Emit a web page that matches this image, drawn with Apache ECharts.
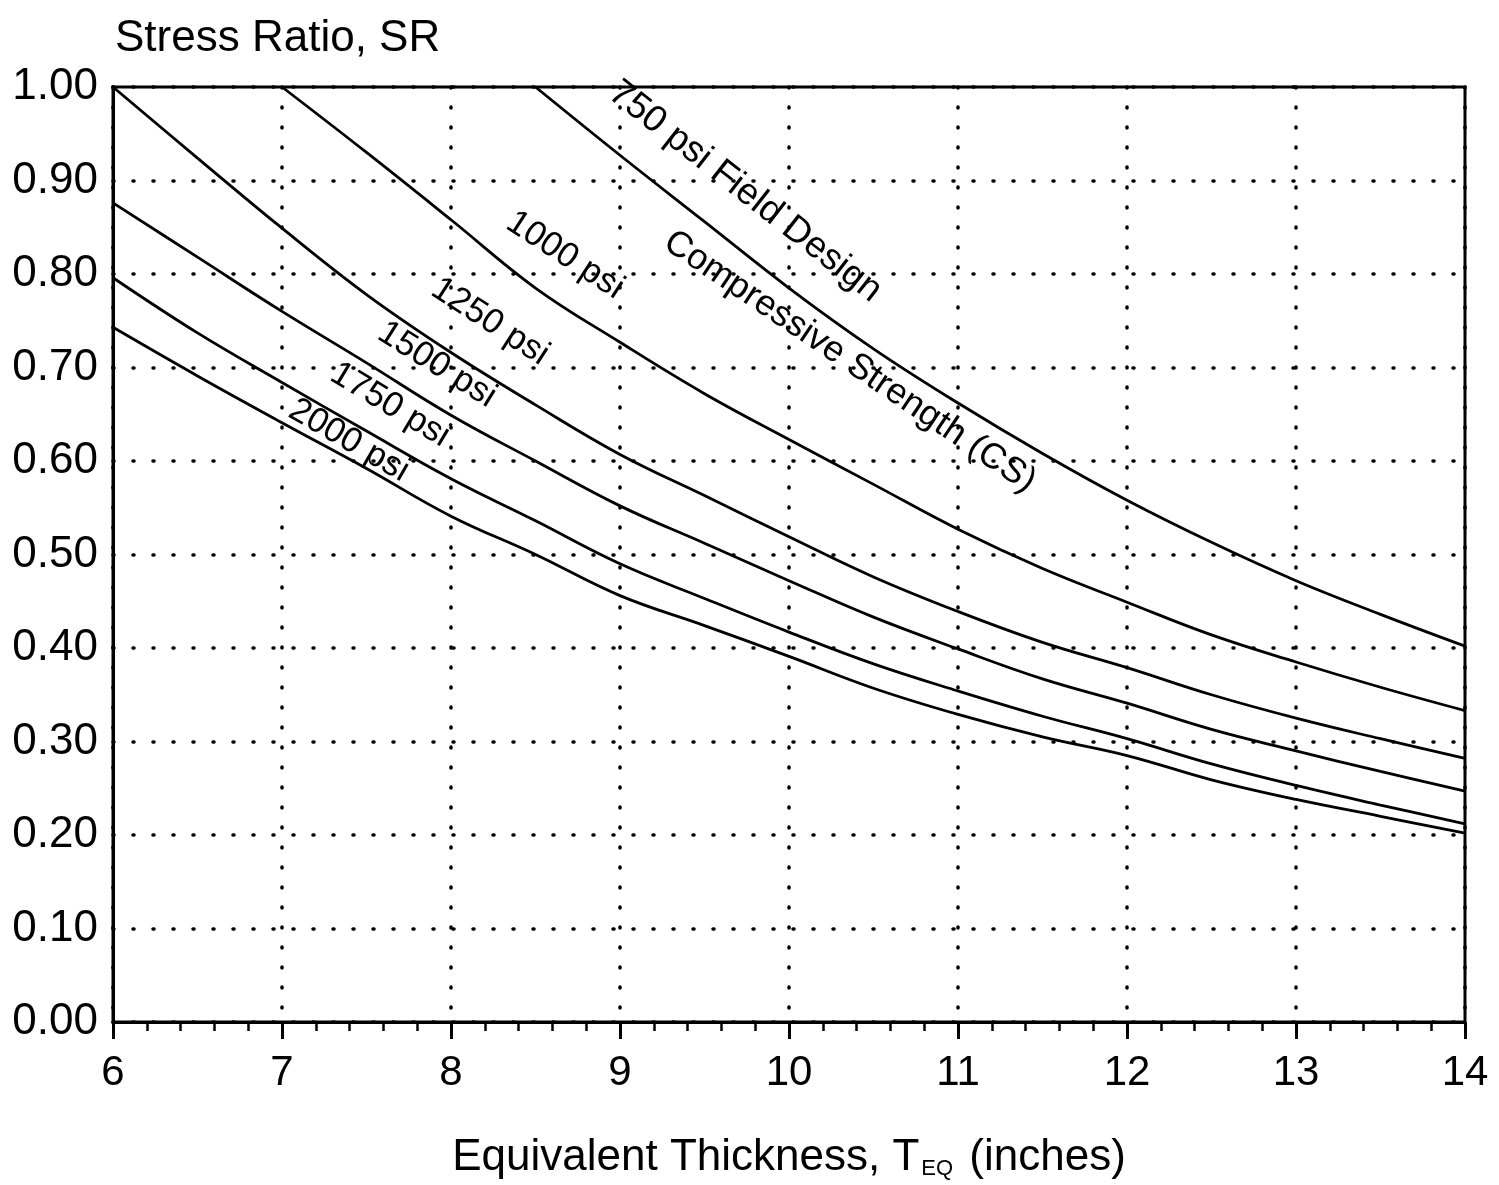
<!DOCTYPE html>
<html>
<head>
<meta charset="utf-8">
<script src="https://cdn.jsdelivr.net/npm/echarts@6/dist/echarts.min.js"></script>
<style>
  html, body { margin: 0; padding: 0; background: #fff; }
  #chart { width: 1499px; height: 1185px; }
</style>
</head>
<body>
<div id="chart"></div>
<script>
// ---- data ----
const thickness = [6, 6.5, 7, 7.5, 8, 8.5, 9, 9.5, 10, 10.5, 11, 11.5, 12, 12.5, 13, 13.5, 14];
const sr750  = [null, null, null, null, null, 1.000, 0.927, 0.856, 0.785, 0.720, 0.662, 0.608, 0.558, 0.513, 0.472, 0.436, 0.402];
const sr1000 = [null, null, 1.000, 0.930, 0.858, 0.785, 0.727, 0.672, 0.623, 0.575, 0.527, 0.485, 0.449, 0.414, 0.385, 0.358, 0.333];
const sr1250 = [1.000, 0.924, 0.849, 0.778, 0.716, 0.660, 0.607, 0.563, 0.519, 0.476, 0.439, 0.406, 0.379, 0.350, 0.325, 0.303, 0.282];
const sr1500 = [0.876, 0.818, 0.760, 0.705, 0.649, 0.600, 0.552, 0.512, 0.472, 0.433, 0.399, 0.367, 0.341, 0.313, 0.290, 0.268, 0.247];
const sr1750 = [0.796, 0.737, 0.684, 0.632, 0.581, 0.536, 0.490, 0.453, 0.417, 0.383, 0.354, 0.327, 0.303, 0.276, 0.253, 0.232, 0.212];
const sr2000 = [0.743, 0.691, 0.641, 0.592, 0.541, 0.500, 0.456, 0.424, 0.391, 0.357, 0.329, 0.305, 0.285, 0.259, 0.238, 0.220, 0.202];

const seriesNames = ['750 psi', '1000 psi', '1250 psi', '1500 psi', '1750 psi', '2000 psi'];
const seriesValues = [sr750, sr1000, sr1250, sr1500, sr1750, sr2000];

const xTicks = [6, 7, 8, 9, 10, 11, 12, 13, 14];
const yTicks = [0, 0.1, 0.2, 0.3, 0.4, 0.5, 0.6, 0.7, 0.8, 0.9, 1.0];

// curve annotations: text, anchor in data coords [x, y], angle (deg), font size
const curveLabelText  = ['750 psi Field Design', 'Compressive Strength (CS)', '1000 psi', '1250 psi', '1500 psi', '1750 psi', '2000 psi'];
const curveLabelAt    = [[9.74, 0.888], [10.36, 0.706], [8.675, 0.820], [8.231, 0.749], [7.917, 0.703], [7.639, 0.660], [7.396, 0.622]];
const curveLabelAngle = [38, 34, 33, 33, 32, 31, 30];
const curveLabelSize  = [37, 36, 35, 35, 35, 35, 35];

const FONT = '"Liberation Sans", Arial, Helvetica, sans-serif';
const dotted = { color: '#000', width: 3.5, type: [1, 19], cap: 'round' };

const chart = echarts.init(document.getElementById('chart'), null, { renderer: 'canvas' });

const series = seriesValues.map((arr, k) => ({
  name: seriesNames[k],
  type: 'line',
  symbol: 'none',
  smooth: 0.4,
  lineStyle: { color: '#000', width: 2.8 },
  z: 5,
  data: thickness.map((x, i) => [x, arr[i]]).filter(p => p[1] !== null)
}));

chart.setOption({
  animation: false,
  backgroundColor: '#fff',
  title: {
    text: 'Stress Ratio, SR',
    left: 110, top: 12,
    textStyle: { fontFamily: FONT, fontSize: 44, fontWeight: 'normal', color: '#000' }
  },
  grid: {
    left: 113, right: 34, top: 87, bottom: 162,
    show: true, borderColor: '#000', borderWidth: 3, backgroundColor: 'transparent'
  },
  xAxis: {
    type: 'value',
    min: xTicks[0], max: xTicks[xTicks.length - 1], interval: 1,
    name: '{a|Equivalent Thickness, T}{sub|EQ}{a| (inches)}',
    nameLocation: 'middle',
    nameGap: 106,
    nameTextStyle: {
      rich: {
        a: { fontFamily: FONT, fontSize: 44, color: '#000', lineHeight: 52, verticalAlign: 'bottom' },
        sub: { fontFamily: FONT, fontSize: 22, color: '#000', lineHeight: 26, verticalAlign: 'bottom', padding: [0, 4, 0, 2] }
      }
    },
    axisLine: { show: true, onZero: false, lineStyle: { color: '#000', width: 3 } },
    axisTick: { show: true, length: 17, lineStyle: { color: '#000', width: 3 } },
    minorTick: { show: true, splitNumber: 5, length: 9, lineStyle: { color: '#000', width: 2.5 } },
    axisLabel: { fontFamily: FONT, fontSize: 42, color: '#000', margin: 30 },
    splitLine: { show: true, lineStyle: dotted },
    minorSplitLine: { show: false }
  },
  yAxis: {
    type: 'value',
    min: yTicks[0], max: yTicks[yTicks.length - 1], interval: 0.1,
    axisLine: { show: true, onZero: false, lineStyle: { color: '#000', width: 3 } },
    axisTick: { show: false },
    axisLabel: { fontFamily: FONT, fontSize: 44, color: '#000', margin: 15, formatter: v => v.toFixed(2) },
    splitLine: { show: true, lineStyle: dotted }
  },
  series: series
});

const graphics = curveLabelText.map((t, i) => {
  const p = chart.convertToPixel({ gridIndex: 0 }, curveLabelAt[i]);
  return {
    type: 'text',
    x: p[0], y: p[1],
    rotation: -curveLabelAngle[i] * Math.PI / 180,
    z: 10,
    style: {
      text: t,
      fontFamily: FONT,
      fontSize: curveLabelSize[i],
      fill: '#000',
      textAlign: 'center',
      textVerticalAlign: 'middle',
      align: 'center',
      verticalAlign: 'middle'
    }
  };
});
chart.setOption({ graphic: graphics });
</script>
</body>
</html>
